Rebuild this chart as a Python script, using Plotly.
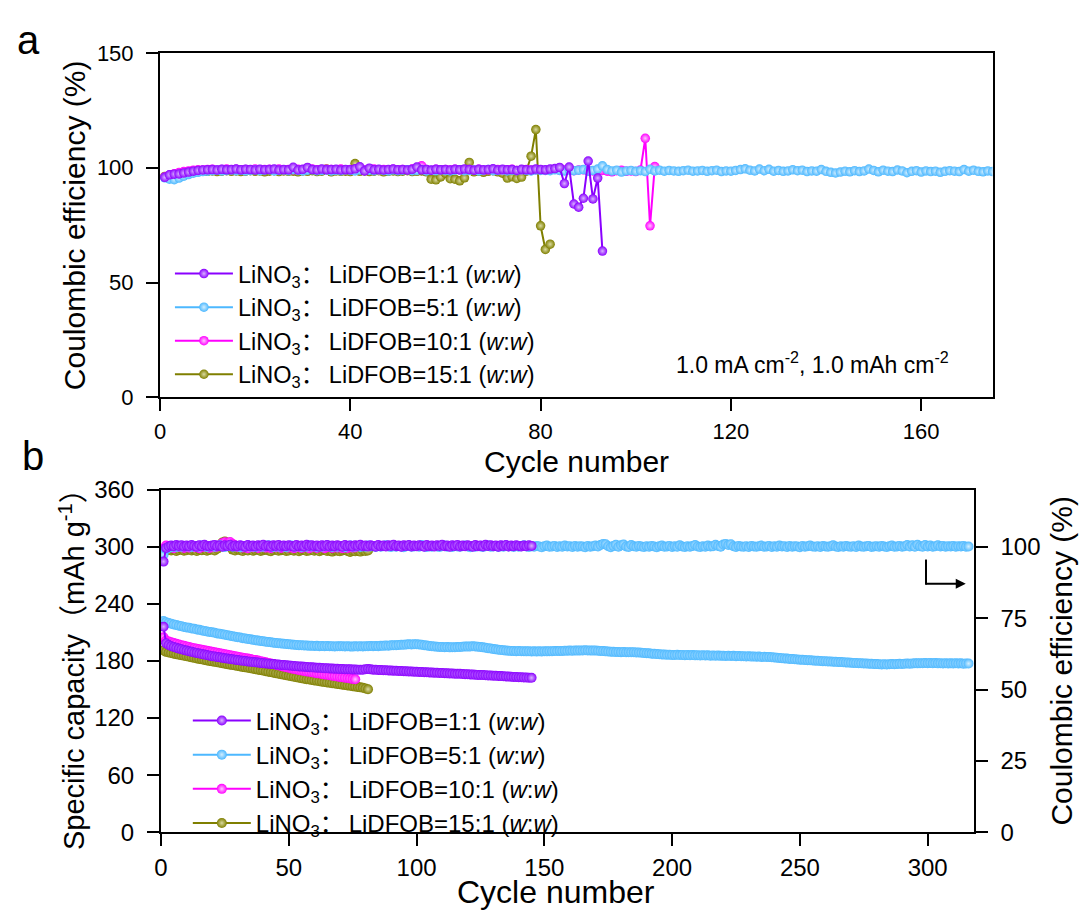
import plotly.graph_objects as go

# ---- panel a: Coulombic efficiency (%) vs cycle, Li||Cu at 1.0 mA cm-2 / 1.0 mAh cm-2
ce_a_1 = [95.8, 96.9, 97.2, 97.3, 97.7, 98.1, 98.5, 98.8, 99.0, 99.1,
          99.2, 99.0, 99.3, 99.1, 99.2, 99.4, 99.1, 99.3, 99.2, 99.0,
          99.3, 99.1, 99.2, 99.4, 99.0, 99.2, 99.1, 100.2, 99.0, 99.3,
          100.1, 99.2, 99.0, 99.4, 99.1, 99.2, 99.3, 99.0, 99.2, 99.1,
          99.5, 100.4, 98.6, 99.8, 99.1, 99.3, 99.0, 99.2, 99.4, 99.1,
          99.2, 99.0, 99.3, 100.3, 99.1, 99.2, 98.9, 99.3, 99.1, 99.2,
          99.0, 99.3, 99.1, 99.4, 99.2, 98.9, 99.3, 99.1, 99.2, 99.5,
          99.0, 99.3, 99.1, 99.2, 98.8, 99.3, 99.1, 99.0, 99.4, 99.2,
          99.1, 99.4, 99.6, 100.1, 93.1, 100.3, 84.2, 82.8, 86.7, 102.9,
          86.4, 95.5, 63.7]
ce_a_5 = [95.6, 95.0, 94.8, 95.5, 96.3, 97.0, 97.6, 98.0, 98.3, 98.5,
          98.7, 98.9, 98.6, 98.8, 99.0, 98.7, 98.9, 98.6, 98.8, 99.0,
          98.7, 98.9, 99.1, 98.6, 98.8, 99.0, 98.7, 99.2, 98.8, 98.6,
          98.9, 99.1, 98.7, 98.8, 99.0, 98.6, 98.9, 98.7, 99.1, 98.8,
          98.6, 99.0, 98.8, 98.9, 98.7, 99.1, 98.8, 98.6, 99.0, 98.7,
          98.9, 99.1, 98.7, 98.8, 99.2, 98.6, 98.9, 98.7, 99.0, 98.8,
          98.6, 98.9, 99.1, 98.7, 98.8, 99.0, 98.6, 98.9, 99.2, 98.7,
          98.8, 99.0, 98.6, 98.9, 98.7, 99.1, 98.8, 98.6, 99.0, 98.8,
          98.9, 98.7, 99.1, 98.8, 98.6, 99.0, 98.7, 98.9, 99.2, 98.5,
          98.8, 99.4, 100.8, 99.2, 98.6, 98.9, 98.1, 98.6, 98.8, 98.4,
          98.7, 98.3, 99.3, 98.6, 98.9, 98.5, 98.8, 98.6, 98.4, 98.7,
          98.9, 98.5, 98.6, 98.8, 98.4, 98.7, 98.9, 98.3, 98.6, 98.5,
          98.8, 99.2, 99.5, 98.9, 98.6, 99.4, 98.7, 99.3, 98.5, 98.8,
          98.4, 98.6, 99.1, 98.7, 98.9, 98.3, 98.6, 98.5, 99.2, 98.4,
          98.0, 97.7, 98.1, 98.5, 98.2, 98.7, 98.3, 98.6, 99.4, 98.8,
          98.2, 98.9, 98.5, 98.3, 99.0, 98.6, 97.8, 98.4, 98.7, 98.1,
          98.6, 98.3, 98.5, 98.0, 98.4, 98.7, 98.5, 98.3, 99.2, 98.5,
          98.9, 98.4, 98.2, 98.6, 98.3]
ce_a_10 = [96.0, 96.8, 97.4, 97.9, 98.3, 98.6, 98.9, 99.1, 99.0, 99.2,
           99.3, 99.0, 99.2, 99.4, 99.1, 99.3, 99.0, 99.2, 99.1, 99.4,
           99.0, 99.2, 99.3, 99.1, 99.4, 99.0, 99.2, 99.1, 99.3, 99.0,
           99.2, 99.4, 99.1, 99.0, 99.3, 99.2, 99.0, 99.4, 99.1, 99.2,
           99.0, 99.3, 99.1, 99.2, 99.4, 99.0, 99.2, 99.1, 99.3, 99.0,
           99.2, 99.1, 99.4, 99.0, 100.8, 99.2, 99.0, 99.3, 99.1, 99.2,
           99.0, 99.3, 99.1, 98.9, 99.2, 99.0, 99.3, 98.8, 99.1, 99.0,
           99.2, 98.9, 99.1, 99.3, 98.8, 99.0, 99.2, 98.9, 99.1, 99.0,
           98.8, 99.1, 99.3, 98.9, 99.0, 99.2, 98.7, 99.0, 99.1, 98.8,
           98.6, 99.0, 98.8, 98.5, 98.2, 98.7, 98.9, 98.4, 98.6, 98.3,
           99.0, 112.8, 74.7, 100.5]
ce_a_15 = [96.2, 96.5, 96.9, 97.3, 97.6, 97.9, 98.2, 98.4, 98.5, 98.4,
           98.6, 98.3, 98.5, 98.7, 98.4, 98.6, 98.3, 98.5, 98.7, 98.4,
           98.6, 98.2, 98.5, 98.7, 98.3, 98.6, 98.4, 98.5, 98.2, 98.6,
           98.4, 98.7, 98.3, 98.5, 99.4, 98.2, 98.6, 98.4, 98.5, 98.3,
           101.8, 98.4, 98.6, 98.3, 98.5, 98.7, 98.2, 98.4, 98.6, 98.3,
           98.5, 98.7, 98.3, 98.4, 98.6, 98.2, 95.0, 94.7, 96.0, 97.6,
           95.2, 95.0, 94.3, 95.6, 102.3, 98.2, 98.5, 98.0, 98.4, 98.7,
           98.2, 97.6, 95.5, 96.1, 95.3, 95.9, 98.5, 105.0, 116.6, 74.7,
           64.4, 66.7]

# ---- panel b: specific capacity (mAh g-1) and Coulombic efficiency (%) vs cycle
cap_b_1 = [216.0, 198.5, 196.8, 195.6, 194.7, 193.9, 193.0, 192.4, 191.6, 190.9,
           190.3, 189.6, 189.0, 188.5, 187.8, 187.3, 186.7, 186.2, 185.6, 185.1,
           184.7, 184.2, 183.8, 183.3, 182.9, 182.5, 182.0, 181.7, 181.3, 180.9,
           180.6, 180.2, 179.9, 179.5, 179.2, 178.9, 178.6, 178.3, 178.0, 177.7,
           177.4, 177.2, 176.9, 176.7, 176.4, 176.2, 175.9, 175.7, 175.5, 175.2,
           175.0, 174.8, 174.5, 174.3, 174.1, 173.9, 173.7, 173.5, 173.3, 173.1,
           172.9, 172.8, 172.6, 172.4, 172.3, 172.1, 172.0, 171.9, 171.8, 171.6,
           171.5, 171.4, 171.3, 171.2, 171.1, 171.0, 170.9, 170.8, 170.9, 171.3,
           171.6, 171.2, 170.9, 170.7, 170.6, 170.4, 170.3, 170.2, 170.0, 169.9,
           169.8, 169.7, 169.5, 169.4, 169.3, 169.1, 169.0, 168.9, 168.8, 168.6,
           168.5, 168.4, 168.2, 168.1, 168.0, 167.8, 167.7, 167.6, 167.4, 167.3,
           167.2, 167.0, 166.9, 166.8, 166.6, 166.5, 166.6, 166.3, 166.1, 166.0,
           165.8, 165.7, 165.5, 165.4, 165.2, 165.3, 165.0, 164.8, 164.7, 164.5,
           164.4, 164.2, 164.1, 163.9, 163.8, 163.6, 163.5, 163.3, 163.2, 163.0,
           162.9, 162.7, 162.6, 162.4, 162.3]
ce_b_1 = [94.8, 99.6, 100.1, 100.4, 100.2, 100.6, 100.3, 100.5, 100.1, 100.4,
          100.2, 100.6, 100.3, 100.0, 100.5, 100.2, 100.7, 100.3, 100.1, 100.4,
          100.6, 100.2, 100.4, 100.0, 100.5, 100.3, 100.7, 100.1, 100.4, 100.2,
          100.5, 100.3, 100.0, 100.6, 100.2, 100.4, 100.1, 100.5, 100.3, 100.7,
          100.2, 100.4, 100.0, 100.5, 100.3, 100.6, 100.1, 100.4, 100.2, 100.5,
          100.3, 100.0, 100.6, 100.2, 100.4, 100.1, 100.7, 100.3, 100.5, 100.2,
          100.4, 100.0, 100.5, 100.3, 100.6, 100.1, 100.4, 100.2, 100.5, 100.3,
          100.0, 100.6, 100.2, 100.4, 100.1, 100.5, 100.3, 100.7, 100.2, 100.4,
          100.1, 100.5, 100.3, 100.0, 100.6, 100.2, 100.4, 100.1, 100.5, 100.3,
          100.7, 100.2, 100.4, 100.0, 100.5, 100.3, 100.6, 100.1, 100.4, 100.2,
          100.5, 100.3, 100.0, 100.6, 100.2, 100.4, 100.1, 100.5, 100.3, 100.7,
          100.2, 100.4, 100.0, 100.5, 100.3, 100.6, 100.1, 100.4, 100.2, 100.5,
          100.3, 100.0, 100.6, 100.2, 100.4, 100.1, 100.7, 100.3, 100.5, 100.2,
          100.4, 100.0, 100.5, 100.3, 100.6, 100.1, 100.4, 100.2, 100.5, 100.3,
          100.1, 100.4, 100.2, 100.5, 100.3]
cap_b_5 = [222.1, 220.8, 219.9, 219.2, 218.3, 217.9, 217.0, 216.6, 215.8, 215.3,
           214.9, 214.2, 213.8, 213.1, 212.7, 212.0, 211.6, 211.0, 210.5, 210.1,
           209.6, 209.0, 208.7, 208.0, 207.6, 207.1, 206.5, 206.1, 205.4, 205.0,
           204.6, 204.0, 203.7, 203.1, 202.8, 202.2, 201.9, 201.4, 201.0, 200.7,
           200.3, 199.9, 199.6, 199.2, 198.9, 198.7, 198.3, 198.1, 197.8, 197.6,
           197.4, 197.0, 196.9, 196.6, 196.5, 196.2, 196.3, 195.9, 196.0, 195.8,
           195.9, 195.6, 195.7, 195.5, 195.8, 195.4, 195.6, 195.3, 195.5, 195.4,
           195.6, 195.2, 195.5, 195.3, 195.1, 195.4, 195.2, 195.5, 195.3, 195.6,
           195.4, 195.7, 195.5, 195.8, 195.6, 196.0, 195.9, 196.2, 196.1, 196.4,
           196.6, 196.5, 196.9, 197.1, 197.0, 197.3, 197.5, 197.4, 197.6, 197.5,
           197.3, 197.0, 196.6, 196.2, 195.8, 195.5, 195.2, 195.0, 194.8, 194.7,
           194.5, 194.6, 194.3, 194.5, 194.4, 194.6, 194.8, 195.0, 195.2, 195.1,
           195.3, 195.4, 195.2, 195.0, 194.7, 194.3, 193.9, 193.5, 193.1, 192.6,
           192.2, 191.8, 191.5, 191.2, 190.9, 190.8, 190.6, 190.5, 190.3, 190.4,
           190.2, 190.3, 190.1, 190.2, 190.0, 190.1, 189.9, 190.1, 190.0, 190.2,
           190.1, 190.3, 190.2, 190.5, 190.4, 190.6, 190.5, 190.8, 190.7, 190.9,
           190.8, 191.0, 190.9, 191.1, 191.0, 191.2, 191.1, 191.0, 190.9, 191.1,
           190.8, 190.6, 190.4, 190.1, 189.9, 189.7, 189.6, 189.4, 189.5, 189.3,
           189.4, 189.2, 189.3, 189.1, 189.2, 189.0, 188.9, 188.7, 188.5, 188.2,
           188.0, 187.7, 187.5, 187.3, 187.0, 186.8, 186.7, 186.5, 186.6, 186.4,
           186.3, 186.5, 186.2, 186.4, 186.1, 186.3, 186.0, 186.2, 185.9, 186.1,
           185.8, 186.0, 185.7, 185.9, 185.6, 185.8, 185.5, 185.7, 185.4, 185.6,
           185.3, 185.5, 185.2, 185.4, 185.1, 185.2, 184.9, 185.0, 184.8, 184.9,
           184.6, 184.7, 184.5, 184.6, 184.3, 184.4, 184.1, 184.2, 183.9, 183.7,
           183.5, 183.2, 183.0, 182.7, 182.5, 182.2, 182.0, 181.8, 181.6, 181.4,
           181.2, 181.0, 180.8, 180.7, 180.5, 180.3, 180.2, 180.0, 179.8, 179.7,
           179.5, 179.4, 179.2, 179.1, 178.9, 178.8, 178.6, 178.5, 178.3, 178.2,
           178.0, 177.9, 177.7, 177.6, 177.4, 177.3, 177.1, 177.0, 176.8, 176.7,
           176.5, 176.4, 176.6, 176.3, 176.5, 176.7, 176.6, 176.8, 177.0, 176.9,
           177.1, 177.3, 177.2, 177.4, 177.6, 177.5, 177.7, 177.6, 177.8, 177.7,
           177.9, 177.6, 177.8, 177.5, 177.7, 177.4, 177.6, 177.3, 177.5, 177.4,
           177.6, 177.3, 177.5, 177.2, 177.4, 177.3]
ce_b_5 = [97.2, 99.1, 99.6, 99.8, 100.1, 99.9, 100.2, 100.0, 100.3, 100.1,
          100.2, 99.9, 100.3, 100.1, 100.0, 100.4, 100.2, 99.9, 100.1, 100.3,
          100.0, 100.2, 100.5, 100.1, 99.9, 100.2, 100.4, 100.0, 100.1, 100.3,
          99.8, 100.2, 100.1, 100.4, 100.0, 100.2, 99.9, 100.3, 100.1, 100.0,
          100.2, 100.5, 100.1, 99.9, 100.2, 100.0, 100.3, 100.1, 99.8, 100.2,
          100.4, 100.0, 100.1, 100.3, 99.9, 100.2, 100.0, 100.4, 100.1, 100.2,
          99.9, 100.3, 100.0, 100.2, 100.5, 100.1, 99.9, 100.2, 100.0, 100.3,
          100.1, 99.8, 100.2, 100.4, 100.0, 100.1, 100.3, 99.9, 100.2, 100.0,
          100.4, 100.1, 100.2, 99.9, 100.3, 100.0, 100.2, 100.5, 100.1, 99.9,
          100.2, 100.0, 100.3, 100.1, 99.8, 100.2, 100.4, 100.0, 100.1, 100.3,
          100.0, 100.6, 100.1, 99.9, 100.2, 100.0, 100.3, 100.1, 99.9, 100.2,
          100.4, 100.0, 100.2, 99.9, 100.3, 100.1, 100.0, 100.2, 100.4, 100.1,
          99.8, 100.2, 100.0, 100.3, 100.1, 99.9, 100.2, 100.4, 100.0, 100.1,
          100.3, 99.9, 100.2, 100.0, 100.4, 100.1, 100.2, 99.9, 100.3, 100.0,
          100.2, 100.5, 100.1, 99.9, 100.2, 100.0, 100.3, 100.1, 99.8, 100.2,
          100.4, 100.0, 100.1, 100.3, 99.9, 100.2, 100.0, 100.4, 100.1, 100.2,
          99.9, 100.3, 100.0, 100.2, 100.1, 99.8, 100.3, 100.0, 100.2, 100.4,
          100.1, 100.6, 101.0, 100.9, 100.2, 99.8, 100.3, 100.7, 100.0, 100.5,
          100.8, 100.1, 99.9, 100.6, 100.2, 100.0, 100.3, 100.1, 99.9, 100.2,
          100.0, 100.3, 100.1, 99.8, 100.2, 100.4, 100.0, 100.1, 100.3, 99.9,
          100.2, 100.0, 100.5, 100.1, 99.9, 100.2, 100.0, 100.3, 100.6, 100.1,
          99.9, 100.2, 100.0, 100.4, 100.1, 100.2, 100.7, 100.3, 100.0, 100.8,
          101.0, 100.6, 100.9, 100.2, 99.9, 100.3, 100.1, 100.0, 100.2, 99.9,
          100.3, 100.1, 100.0, 100.2, 100.4, 100.0, 100.1, 100.3, 99.9, 100.2,
          100.0, 100.4, 100.1, 100.2, 99.9, 100.3, 100.0, 100.2, 100.1, 99.8,
          100.3, 100.0, 100.2, 100.4, 100.1, 100.0, 100.2, 99.9, 100.3, 100.1,
          100.0, 100.2, 100.5, 100.1, 99.9, 100.2, 100.0, 100.3, 100.1, 100.0,
          100.2, 99.9, 100.4, 100.1, 100.0, 100.2, 100.3, 99.9, 100.1, 100.2,
          100.0, 100.3, 100.1, 99.9, 100.2, 100.4, 100.0, 100.1, 100.3, 100.0,
          100.2, 100.6, 100.1, 100.5, 100.0, 100.7, 100.2, 100.0, 100.6, 100.1,
          100.4, 100.0, 100.2, 100.5, 100.1, 100.3, 100.0, 100.2, 100.1, 100.3,
          100.0, 100.2, 100.1, 100.3, 100.0, 100.1]
cap_b_10 = [205.0, 201.5, 200.4, 199.6, 198.8, 198.0, 197.3, 196.6, 195.9, 195.3,
            194.7, 194.0, 193.5, 192.9, 192.3, 191.8, 191.2, 190.7, 190.1, 189.6,
            189.1, 188.6, 188.0, 187.6, 187.0, 186.5, 186.0, 185.5, 185.0, 184.5,
            184.0, 183.5, 183.0, 182.5, 182.0, 181.4, 180.9, 180.4, 179.8, 179.2,
            178.6, 178.0, 177.3, 176.7, 176.0, 175.4, 174.7, 174.1, 173.4, 172.8,
            172.2, 171.6, 171.1, 170.5, 170.0, 169.5, 169.0, 168.6, 168.1, 167.7,
            167.2, 166.8, 166.4, 165.9, 165.5, 165.0, 164.6, 164.2, 163.7, 163.3,
            162.9, 162.5, 162.1, 161.7, 161.2, 160.8]
ce_b_10 = [99.2, 100.4, 99.8, 100.1, 99.5, 100.3, 99.9, 100.2, 99.6, 100.0,
           99.7, 100.3, 99.8, 100.1, 99.5, 100.2, 99.9, 100.0, 99.6, 100.3,
           99.8, 100.1, 100.6, 101.2, 101.6, 101.3, 101.7, 101.0, 100.4, 99.9,
           100.2, 99.7, 100.0, 99.5, 100.1, 99.8, 100.3, 99.6, 99.9, 100.2,
           99.7, 100.0, 99.5, 100.2, 99.8, 100.1, 99.6, 99.9, 100.3, 99.7,
           100.0, 99.5, 99.8, 100.2, 99.6, 99.9, 100.1, 99.5, 99.8, 100.0,
           99.6, 99.9, 100.2, 99.5, 99.8, 100.0, 99.6, 99.9, 99.7, 100.1,
           99.5, 99.8, 99.6, 99.9, 99.7, 99.8]
cap_b_15 = [191.0, 189.6, 189.0, 188.3, 187.7, 187.2, 186.6, 186.0, 185.5, 184.9,
            184.4, 183.8, 183.3, 182.7, 182.2, 181.7, 181.1, 180.6, 180.1, 179.6,
            179.1, 178.6, 178.1, 177.6, 177.1, 176.6, 176.1, 175.7, 175.2, 174.7,
            174.3, 173.8, 173.3, 172.9, 172.4, 171.9, 171.4, 170.9, 170.4, 169.9,
            169.3, 168.8, 168.3, 167.7, 167.2, 166.6, 166.1, 165.5, 165.0, 164.4,
            163.9, 163.4, 162.9, 162.4, 161.9, 161.4, 160.9, 160.5, 160.0, 159.6,
            159.2, 158.7, 158.3, 157.9, 157.5, 157.1, 156.7, 156.3, 155.9, 155.5,
            155.1, 154.7, 154.3, 153.9, 153.5, 153.1, 152.7, 152.3, 151.8, 151.1,
            150.3]
ce_b_15 = [98.0, 98.6, 99.1, 98.7, 99.0, 98.5, 98.9, 99.2, 98.6, 98.8,
           99.1, 98.7, 98.9, 98.5, 99.0, 98.8, 99.2, 98.6, 98.9, 99.1,
           98.7, 99.3, 100.4, 101.5, 101.8, 101.2, 100.1, 99.0, 98.7, 99.1,
           98.8, 98.5, 99.0, 98.7, 99.2, 98.6, 98.9, 99.1, 98.5, 98.8,
           99.0, 98.7, 98.4, 98.9, 99.1, 98.6, 98.8, 99.0, 98.5, 98.7,
           99.1, 98.6, 98.9, 98.4, 98.8, 99.0, 98.5, 98.7, 99.1, 98.6,
           98.9, 98.4, 98.8, 99.0, 98.5, 98.7, 98.3, 98.8, 98.6, 98.4,
           98.7, 98.9, 98.5, 98.2, 98.6, 98.4, 98.7, 98.3, 98.8, 98.5,
           98.7]

ratios = ["1:1", "5:1", "10:1", "15:1"]
colors = ["#8A00FF", "#4DB8FF", "#FF00FF", "#7F7F00"]
glows = ["#D9B3FF", "#D2EEFF", "#FFC4FF", "#DADAA0"]
ce_a = [ce_a_1, ce_a_5, ce_a_10, ce_a_15]
cap_b = [cap_b_1, cap_b_5, cap_b_10, cap_b_15]
ce_b = [ce_b_1, ce_b_5, ce_b_10, ce_b_15]

FONT = "Arial, Liberation Sans, Noto Sans CJK SC, sans-serif"


def label(r):
    return "LiNO<sub>3</sub>\uff1a\u2009LiDFOB=" + r + " (<i>w</i>:<i>w</i>)"


def marker(i, size):
    return dict(size=size, color=colors[i], line=dict(width=0),
                gradient=dict(type="radial", color=glows[i]))


fig = go.Figure()

# draw back to front so that 1:1 sits on top; legendrank keeps 1:1 first
for i in [3, 2, 1, 0]:
    y = ce_a[i]
    fig.add_trace(go.Scatter(
        x=list(range(1, len(y) + 1)), y=y, mode="lines+markers",
        name=label(ratios[i]), legendgroup="a" + str(i), legendrank=i + 1,
        line=dict(color=colors[i], width=2), marker=marker(i, 9.5),
        xaxis="x", yaxis="y", legend="legend"))

for i in [3, 2, 1, 0]:
    y = cap_b[i]
    fig.add_trace(go.Scatter(
        x=list(range(1, len(y) + 1)), y=y, mode="lines+markers",
        name=label(ratios[i]), legendgroup="b" + str(i), legendrank=i + 1,
        line=dict(color=colors[i], width=2), marker=marker(i, 10),
        xaxis="x2", yaxis="y2", legend="legend2"))
for i in [3, 2, 1, 0]:
    y = ce_b[i]
    fig.add_trace(go.Scatter(
        x=list(range(1, len(y) + 1)), y=y, mode="lines+markers",
        showlegend=False, legendgroup="b" + str(i),
        line=dict(color=colors[i], width=2), marker=marker(i, 10),
        xaxis="x2", yaxis="y3"))

W, H = 1079, 922


def px(x):
    return x / W


def py(y):
    return (H - y) / H


def ax(fs, standoff):
    return dict(showline=True, linecolor="black", linewidth=2, ticks="outside",
                ticklen=12, tickwidth=2, tickcolor="black", showgrid=False,
                zeroline=False, ticklabelstandoff=standoff,
                tickfont=dict(family=FONT, size=fs, color="black"))


def legend_style(fs):
    return dict(font=dict(family=FONT, size=fs, color="black"),
                bgcolor="rgba(0,0,0,0)", tracegroupgap=0, itemwidth=58,
                xanchor="left", yanchor="top")


fig.update_layout(
    width=W, height=H, margin=dict(l=0, r=0, t=0, b=0),
    plot_bgcolor="white", paper_bgcolor="white",
    font=dict(family=FONT, color="black"),
    xaxis=dict(ax(22, 1), domain=[px(154), px(992)], anchor="y", range=[0, 175],
               tickvals=[0, 40, 80, 120, 160], mirror=True),
    yaxis=dict(ax(22, 8), domain=[py(395), py(40)], anchor="x", range=[0, 150],
               tickvals=[0, 50, 100, 150], mirror=True),
    xaxis2=dict(ax(24, 1), domain=[px(155), px(973)], anchor="y2", range=[0, 318],
                tickvals=[0, 50, 100, 150, 200, 250, 300], mirror=True),
    yaxis2=dict(ax(24, 8), domain=[py(843), py(490)], anchor="x2", range=[0, 360],
                tickvals=[0, 60, 120, 180, 240, 300, 360]),
    yaxis3=dict(ax(24, 8), overlaying="y2", anchor="x2", side="right", range=[0, 120],
                tickvals=[0, 25, 50, 75, 100]),
    legend=dict(legend_style(23.5), x=px(164), y=py(245)),
    legend2=dict(legend_style(24), x=px(182), y=py(705)),
    showlegend=True,
)

notes = [
    dict(text="a", x=px(22), y=py(27), size=40),
    dict(text="b", x=px(26), y=py(455), size=40),
    dict(text="Coulombic efficiency (%)", x=px(68), y=py(218), textangle=-90, size=30),
    dict(text="Cycle number", x=px(573), y=py(461), size=30),
    dict(text="1.0 mA cm<sup>-2</sup>, 1.0 mAh cm<sup>-2</sup>", x=px(811), y=py(360), size=23),
    dict(text="Specific capacity\uff08mAh g<sup>-1</sup>\uff09", x=px(66), y=py(668),
         textangle=-90, size=29),
    dict(text="Coulombic efficiency (%)", x=px(1061), y=py(666), textangle=-90, size=30),
    dict(text="Cycle number", x=px(553), y=py(904), size=32, yanchor="middle"),
]
for n in notes:
    fs = n.pop("size")
    n.setdefault("yanchor", "middle")
    fig.add_annotation(xref="paper", yref="paper", showarrow=False,
                       xanchor="center",
                       font=dict(family=FONT, size=fs, color="black"), **n)

# "belongs to right axis" marker
fig.add_shape(type="line", xref="paper", yref="paper",
              x0=px(925), x1=px(925), y0=py(562), y1=py(588),
              line=dict(color="black", width=2))
fig.add_annotation(xref="paper", yref="paper", x=px(965), y=py(587), ax=-41, ay=0,
                   text="", showarrow=True, arrowhead=2, arrowsize=1, arrowwidth=2,
                   arrowcolor="black")

fig.write_html("out.html", config={"displayModeBar": False},
               post_script="document.body.style.margin='0px';")
